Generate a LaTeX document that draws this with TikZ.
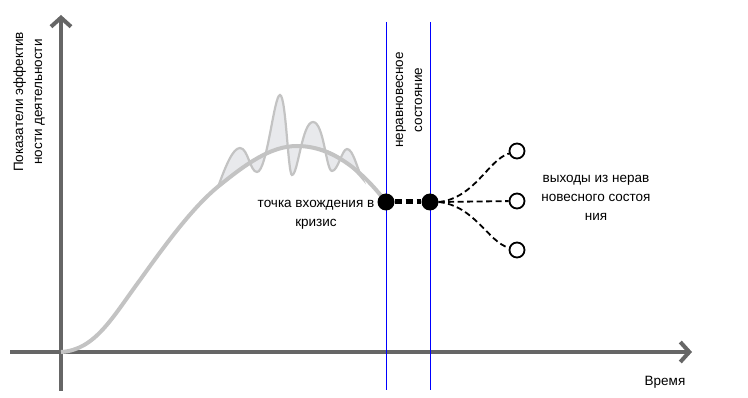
\documentclass[tikz,border=0pt]{standalone}
\usepackage{fontspec}
\setmainfont{Liberation Sans}
\usepackage{tikz}
\usetikzlibrary{arrows.meta, positioning, calc}
\usepackage{xcolor}
\definecolor{axisgray}{HTML}{666666}
\definecolor{curvegray}{HTML}{C3C3C3}
\definecolor{wavefill}{HTML}{E8E9EC}

\begin{document}
\begin{tikzpicture}[x=1pt, y=-1pt,
    axis/.style={line width=4pt, axisgray, -{Straight Barb[length=9pt, width=20pt]}},
    border/.style={blue, line width=0.5pt},
    state/.style={circle, fill=black, minimum size=17pt, inner sep=0pt},
    outcome/.style={circle, draw=black, fill=white, line width=1.8pt, minimum size=15pt, inner sep=0pt},
    path/.style={black, line width=1.8pt, dash pattern=on 6pt off 3.5pt},
    label/.style={font=\fontsize{13.5}{19}\selectfont, align=center}]
    \useasboundingbox (0,0) rectangle (748,398);

    % Axes
    \coordinate (xstart) at (10,352);
    \coordinate (xend) at (692,352);
    \coordinate (ystart) at (61,391);
    \coordinate (yend) at (61,15);
    \draw[axis] (xstart) -- (xend);
    \draw[axis] (ystart) -- (yend);
    \node[label, rotate=90] (ylabel) at (29,102) {Показатели эффектив\\ности деятельности};
    \node[label] (xlabel) at (665,382) {Время};

    % Fluctuations around the peak
    \filldraw[fill=wavefill, draw=curvegray, line width=2.2pt] (218,187)
        .. controls (226,165) and (233,148) .. (240,148)
        .. controls (248,148) and (250,172) .. (257,172)
        .. controls (267,172) and (274,95) .. (280,95)
        .. controls (286,95) and (288,175) .. (292,175)
        .. controls (298,175) and (302,122) .. (313,122)
        .. controls (324,122) and (326,171) .. (332,171)
        .. controls (338,171) and (342,149) .. (347,149)
        .. controls (353,149) and (357,168) .. (362,178)
        .. controls (340,152) and (320,146) .. (297,146)
        .. controls (270,146) and (245,165) .. (218,187) -- cycle;

    % Development curve
    \draw[curvegray, line width=4pt] (61,352) .. controls (95,350) and (112,318) .. (140,280)
        .. controls (170,238) and (195,205) .. (220,185)
        .. controls (245,165) and (270,146) .. (297,146)
        .. controls (330,146) and (360,168) .. (386,202);

    % Borders of the non-equilibrium state
    \coordinate (b1top) at (386,22);
    \coordinate (b1bot) at (386,390);
    \coordinate (b2top) at (430,22);
    \coordinate (b2bot) at (430,390);
    \draw[border] (b1top) -- (b1bot);
    \draw[border] (b2top) -- (b2bot);
    \node[label, rotate=90] (stlabel) at (409,100) {неравновесное\\состояние};

    % Crisis entry and exits
    \node[state] (entry) at (386,202) {};
    \node[state] (exit) at (430,202) {};
    \draw[black, line width=5pt, dash pattern=on 7pt off 4pt] (entry) -- (exit);
    \node[outcome] (out1) at (517,151) {};
    \node[outcome] (out2) at (517,201) {};
    \node[outcome] (out3) at (517,250) {};
    \draw[path] (exit.east) .. controls (475,198) and (488,160) .. (out1);
    \draw[path] (exit.east) -- (out2);
    \draw[path] (exit.east) .. controls (475,206) and (488,242) .. (out3);

    \node[label] (entrylabel) at (316,215) {точка вхождения в\\кризис};
    \node[label] (exitlabel) at (596,198) {выходы из нерав\\новесного состоя\\ния};
\end{tikzpicture}
\end{document}
